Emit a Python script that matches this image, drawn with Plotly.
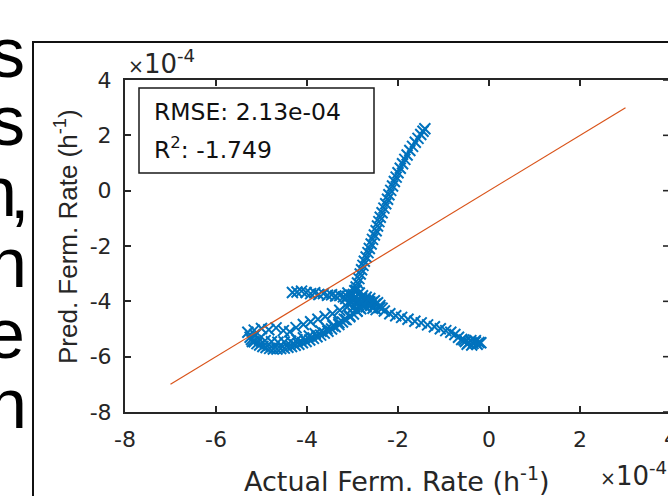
import plotly.graph_objects as go

# Fermentation rates in units of 1e-4 h^-1 (actual vs. predicted)
rise_actual = [-2.98, -2.95, -2.92, -2.89, -2.86, -2.83, -2.80, -2.77, -2.74, -2.70,
               -2.66, -2.63, -2.59, -2.56, -2.52, -2.48, -2.45, -2.42, -2.39, -2.35,
               -2.31, -2.27, -2.23, -2.20, -2.16, -2.12, -2.08, -2.04, -2.00, -1.95,
               -1.90, -1.85, -1.80, -1.74, -1.68, -1.62, -1.56, -1.50, -1.45, -1.41]
rise_pred = [-3.75, -3.62, -3.48, -3.34, -3.18, -3.01, -2.86, -2.70, -2.55, -2.40,
             -2.24, -2.09, -1.93, -1.76, -1.60, -1.45, -1.28, -1.12, -0.96, -0.80,
             -0.63, -0.47, -0.31, -0.15, 0.01, 0.17, 0.33, 0.49, 0.65, 0.81,
             0.97, 1.13, 1.29, 1.45, 1.60, 1.75, 1.89, 2.03, 2.15, 2.24]

tail_actual = [-2.62, -2.50, -2.40, -2.30, -2.18, -2.05, -1.92, -1.78, -1.63, -1.49,
               -1.35, -1.20, -1.07, -0.95, -0.84, -0.75, -0.67, -0.60, -0.52, -0.45,
               -0.40, -0.35, -0.30, -0.26, -0.22, -0.48, -0.38, -0.30, -0.18, -0.55]
tail_pred = [-4.02, -4.10, -4.22, -4.35, -4.45, -4.52, -4.58, -4.65, -4.72, -4.78,
             -4.85, -4.92, -4.99, -5.06, -5.12, -5.20, -5.30, -5.38, -5.45, -5.50,
             -5.42, -5.52, -5.47, -5.55, -5.49, -5.55, -5.58, -5.42, -5.50, -5.40]

upper_actual = [-4.32, -4.22, -4.12, -4.02, -3.92, -3.83, -3.74, -3.64, -3.55, -3.46,
                -3.37, -3.28, -3.20, -3.12]
upper_pred = [-3.68, -3.66, -3.63, -3.68, -3.72, -3.69, -3.75, -3.72, -3.78, -3.76,
              -3.81, -3.79, -3.84, -3.82]

core_actual = [-3.10, -3.02, -2.95, -2.88, -2.80, -2.72, -2.65, -2.90, -2.82, -2.75,
               -2.68, -3.00, -3.05, -2.95, -2.85, -2.78, -2.70, -2.60, -2.55, -2.48,
               -2.92, -2.85, -2.78, -2.70, -2.62, -2.58, -3.15, -3.10, -3.00, -2.90,
               -2.45, -2.40, -2.52, -2.35]
core_pred = [-3.70, -3.78, -3.85, -3.92, -3.88, -3.95, -4.00, -4.05, -4.10, -4.15,
             -4.08, -3.95, -4.10, -4.18, -4.22, -4.02, -4.20, -4.15, -4.25, -4.30,
             -3.60, -3.70, -3.80, -3.85, -3.90, -4.05, -3.90, -4.05, -4.25, -4.35,
             -4.05, -4.15, -3.98, -4.25]

loop_low_actual = [-5.22, -5.16, -5.10, -5.04, -4.97, -4.90, -4.82, -4.74, -4.66, -4.58,
                   -4.50, -4.42, -4.34, -4.26, -4.18, -4.10, -4.02, -3.94, -3.86, -3.78,
                   -3.70, -3.62, -3.54, -3.46, -3.38, -3.30, -3.22, -3.14, -3.06, -2.98,
                   -2.90, -2.82]
loop_low_pred = [-5.38, -5.46, -5.53, -5.58, -5.63, -5.67, -5.70, -5.72, -5.72, -5.71,
                 -5.69, -5.66, -5.63, -5.59, -5.55, -5.50, -5.45, -5.40, -5.34, -5.28,
                 -5.22, -5.15, -5.08, -5.00, -4.92, -4.84, -4.75, -4.66, -4.56, -4.46,
                 -4.36, -4.27]

loop_mid_actual = [-5.05, -4.92, -4.78, -4.64, -4.50, -4.36, -4.22, -4.08, -3.95, -3.82,
                   -3.69, -3.56, -3.43, -3.30, -3.18, -3.06]
loop_mid_pred = [-5.36, -5.42, -5.46, -5.48, -5.47, -5.44, -5.39, -5.32, -5.25, -5.17,
                 -5.08, -4.98, -4.88, -4.77, -4.65, -4.52]

loop_top_actual = [-5.30, -5.16, -5.00, -4.84, -4.68, -4.52, -4.38, -4.24, -4.08, -3.92,
                   -3.76, -3.60, -3.44, -3.28, -3.12, -5.25, -5.20, -5.15]
loop_top_pred = [-5.12, -5.04, -4.98, -5.03, -4.96, -5.06, -5.10, -4.95, -4.84, -4.74,
                 -4.65, -4.55, -4.45, -4.32, -4.20, -5.30, -5.45, -5.20]

fit_actual = [-7, 3]
fit_pred = [-7, 3]

x_tick_vals = [-8, -6, -4, -2, 0, 2]
x_tick_text = ["-8", "-6", "-4", "-2", "0", "2"]
y_tick_vals = [-8, -6, -4, -2, 0, 2, 4]
y_tick_text = ["-8", "-6", "-4", "-2", "0", "2", "4"]

rmse_label = "RMSE: 2.13e-04"
r2_label = "R<sup>2</sup>: -1.749"
x_title = "Actual Ferm. Rate (h<sup>-1</sup>)"
y_title = "Pred. Ferm. Rate (h<sup>-1</sup>)"
exp_label = "<span style='font-size:19px'>\u00d7</span>10<sup>-4</sup>"
# ends of the large body-text lines beside the figure: (text, right edge px, centre px)
side_text = [("s", 27, 53), ("s", 27, 121), ("n", 19, 192), (",", 31, 194),
             ("n", 29, 263), ("e", 27, 334), ("n", 29, 404)]

actual = (rise_actual + tail_actual + upper_actual + core_actual
          + loop_low_actual + loop_mid_actual + loop_top_actual)
pred = (rise_pred + tail_pred + upper_pred + core_pred
        + loop_low_pred + loop_mid_pred + loop_top_pred)

# page geometry (pixels)
W, H = 668, 496
L, R, T, B = 125, 0, 80, 84
PW, PH = W - L - R, H - T - B
X_PX_PER_UNIT = 45.5
x_lo, y_lo, y_hi = -8, -8, 4
x_hi = x_lo + PW / X_PX_PER_UNIT

AX = "#262626"
BLUE = "#0072BD"
ORANGE = "#D95319"
TXT_FONT = "DejaVu Sans"


def px(xp):
    return (xp - L) / PW


def py(yp):
    return (T + PH - yp) / PH


fig = go.Figure()
fig.add_trace(go.Scatter(
    x=actual, y=pred, mode="markers",
    marker=dict(symbol="x-thin", size=11, color=BLUE,
                line=dict(color=BLUE, width=2)),
    showlegend=False, cliponaxis=False,
))
fig.add_trace(go.Scatter(
    x=fit_actual, y=fit_pred, mode="lines",
    line=dict(color=ORANGE, width=1.2), showlegend=False,
))

axis_common = dict(
    showgrid=False, zeroline=False, showline=True, linecolor=AX, linewidth=2,
    ticks="inside", ticklen=6, tickwidth=1.6, tickcolor=AX,
    tickfont=dict(family=TXT_FONT, size=22, color=AX),
)
fig.update_xaxes(range=[x_lo, x_hi], tickvals=x_tick_vals, ticktext=x_tick_text,
                 mirror="ticks", ticklabelstandoff=7, **axis_common)
fig.update_yaxes(range=[y_lo, y_hi], tickvals=y_tick_vals, ticktext=y_tick_text,
                 mirror=False, ticklabelstandoff=7, **axis_common)

shapes = []
# right-hand box ticks (the right edge of the box sits just past the page)
for v in y_tick_vals:
    shapes.append(dict(type="line", xref="paper", yref="y", x0=px(663), x1=1.0,
                       y0=v, y1=v, line=dict(color=AX, width=1.6)))
# stats box
shapes.append(dict(type="rect", xref="paper", yref="paper",
                   x0=px(139), x1=px(374), y0=py(173), y1=py(88),
                   line=dict(color="#1a1a1a", width=1.5), fillcolor="white",
                   layer="above"))
# surrounding frame
shapes.append(dict(type="rect", xref="paper", yref="paper",
                   x0=px(33), x1=px(700), y0=py(540), y1=py(42),
                   line=dict(color="#111111", width=2), layer="below"))

ann = []
ann.append(dict(text=rmse_label, x=px(152), y=py(112), xref="paper", yref="paper",
                xanchor="left", yanchor="middle", showarrow=False,
                font=dict(family=TXT_FONT, size=23.5, color="#111111")))
ann.append(dict(text=r2_label, x=px(152), y=py(148), xref="paper", yref="paper",
                xanchor="left", yanchor="middle", showarrow=False,
                font=dict(family=TXT_FONT, size=23.5, color="#111111")))
ann.append(dict(text=x_title, x=px(396), y=py(479), xref="paper", yref="paper",
                xanchor="center", yanchor="middle", showarrow=False,
                font=dict(family=TXT_FONT, size=27, color=AX)))
ann.append(dict(text=y_title, x=px(66), y=py(237), xref="paper", yref="paper",
                xanchor="center", yanchor="middle", showarrow=False, textangle=-90,
                font=dict(family="Liberation Sans", size=26, color=AX)))
ann.append(dict(text=exp_label, x=px(126), y=py(62), xref="paper", yref="paper",
                xanchor="left", yanchor="middle", showarrow=False,
                font=dict(family=TXT_FONT, size=26, color=AX)))
ann.append(dict(text=exp_label, x=px(598), y=py(474), xref="paper", yref="paper",
                xanchor="left", yanchor="middle", showarrow=False,
                font=dict(family=TXT_FONT, size=26, color=AX)))
# partial tick label of the last x tick, cut by the page edge
ann.append(dict(text="4", x=px(671), y=py(438), xref="paper", yref="paper",
                xanchor="center", yanchor="middle", showarrow=False,
                font=dict(family=TXT_FONT, size=22, color=AX)))
# large text lines running off the left edge
for txt, xr, yc in side_text:
    ann.append(dict(text=txt, x=px(xr), y=py(yc), xref="paper", yref="paper",
                    xanchor="right", yanchor="middle", showarrow=False,
                    font=dict(family="Liberation Sans", size=70, color="#000000")))

fig.update_layout(
    width=W, height=H, margin=dict(l=L, r=R, t=T, b=B, pad=0),
    paper_bgcolor="white", plot_bgcolor="white",
    shapes=shapes, annotations=ann, showlegend=False,
)

fig.write_html("out.html")
